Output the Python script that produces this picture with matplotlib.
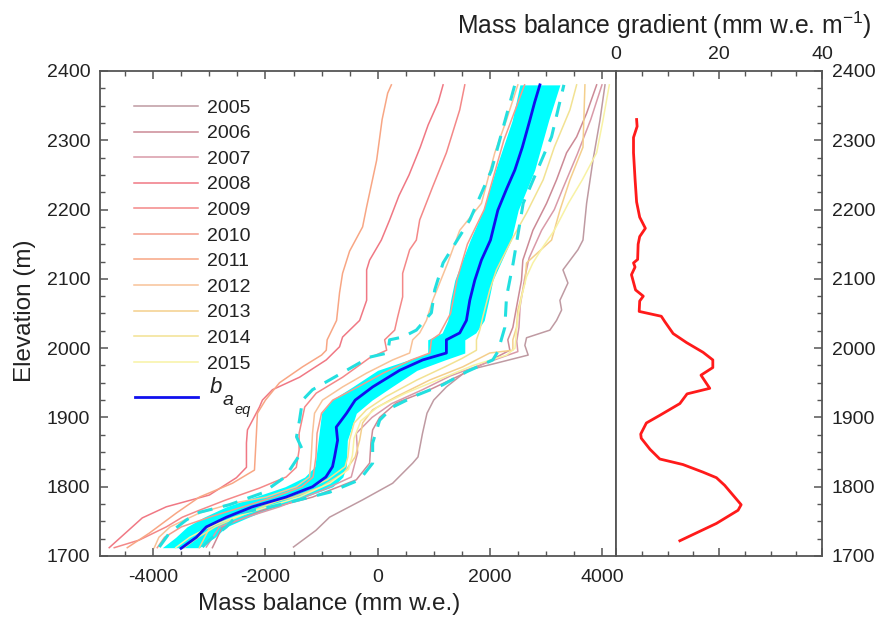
import matplotlib
matplotlib.use("Agg")
import matplotlib.pyplot as plt
from matplotlib.lines import Line2D
from matplotlib.ticker import MultipleLocator

plt.rcParams['font.family'] = ['Liberation Sans', 'DejaVu Sans']
plt.rcParams['mathtext.fontset'] = 'custom'
plt.rcParams['mathtext.it'] = 'Liberation Sans:italic'
plt.rcParams['mathtext.rm'] = 'Liberation Sans'
plt.rcParams['axes.unicode_minus'] = False

# ---------------- data ----------------
years = ['2005', '2006', '2007', '2008', '2009', '2010', '2011', '2012', '2013', '2014', '2015']
year_colors = ['#bf9aa2', '#cc8a96', '#d99aa8', '#f07884', '#f48888', '#f49c8c',
               '#f8a684', '#f8c298', '#f4cf8c', '#f2e292', '#f8f2a4']

e_2005 = [1713, 1737, 1756, 1781, 1805, 1834, 1843, 1877, 1906, 1925, 1944, 1968, 1978, 1990, 2004, 2015, 2026, 2040, 2055, 2069, 2094, 2113, 2142, 2156, 2209, 2271, 2329, 2380]
mb_2005 = [-1500, -1100, -857, -268, 268, 625, 720, 800, 880, 1000, 1226, 1600, 2100, 2684, 2625, 2655, 3071, 3190, 3280, 3250, 3393, 3304, 3571, 3661, 3726, 3839, 3964, 4054]

e_2006 = [1712, 1742, 1766, 1785, 1810, 1834, 1863, 1882, 1900, 1921, 1940, 1960, 1982, 1997, 2012, 2030, 2059, 2098, 2127, 2170, 2209, 2243, 2282, 2305, 2339, 2380]
mb_2006 = [-2946, -2768, -2054, -1161, -380, -143, -120, -89, 36, 333, 929, 1450, 2000, 2357, 2321, 2411, 2476, 2565, 2589, 2768, 3012, 3190, 3369, 3548, 3726, 3905]

e_2007 = [1713, 1742, 1756, 1771, 1795, 1814, 1849, 1877, 1900, 1920, 1940, 1960, 1985, 1995, 2010, 2030, 2060, 2100, 2130, 2170, 2200, 2230, 2280, 2330, 2380]
mb_2007 = [-3054, -2821, -2339, -1750, -982, -470, -357, -380, -100, 250, 800, 1300, 2150, 2500, 2480, 2520, 2540, 2620, 2700, 2923, 3150, 3300, 3560, 3800, 4000]

e_2008 = [1712, 1755, 1771, 1788, 1813, 1828, 1863, 1882, 1915, 1925, 1940, 1958, 1983, 2002, 2016, 2040, 2069, 2113, 2127, 2156, 2185, 2220, 2250, 2290, 2322, 2355, 2380]
mb_2008 = [-4786, -4196, -3768, -3000, -2518, -2339, -2339, -2321, -2107, -2054, -1875, -1393, -916, -679, -625, -321, -196, -196, -143, 66, 214, 380, 560, 760, 900, 1080, 1167]

e_2009 = [1712, 1723, 1742, 1756, 1766, 1781, 1798, 1814, 1828, 1853, 1877, 1915, 1935, 1958, 1986, 1997, 2012, 2026, 2045, 2074, 2108, 2142, 2156, 2185, 2233, 2282, 2344, 2380]
mb_2009 = [-4696, -4250, -3768, -3482, -3179, -2702, -2107, -1631, -1450, -1400, -1400, -1300, -1095, -625, -143, 161, 125, 304, 357, 446, 446, 571, 690, 750, 982, 1226, 1464, 1554]

e_2010 = [1712, 1727, 1742, 1756, 1771, 1785, 1800, 1814, 1843, 1877, 1906, 1925, 1944, 1964, 1983, 1993, 2012, 2020, 2050, 2100, 2150, 2200, 2300, 2380]
mb_2010 = [-3929, -3800, -3500, -3000, -2400, -1850, -1350, -1150, -1100, -1080, -1000, -800, -350, 100, 600, 930, 960, 1100, 1300, 1420, 1600, 1900, 2250, 2620]

e_2011 = [1712, 1733, 1762, 1785, 1805, 1824, 1877, 1906, 1925, 1950, 1973, 1990, 1997, 2012, 2040, 2080, 2108, 2140, 2175, 2204, 2271, 2330, 2368, 2380]
mb_2011 = [-4464, -4071, -3589, -3179, -2589, -2196, -2161, -2143, -2000, -1750, -1339, -1000, -916, -900, -732, -679, -625, -500, -268, -196, -18, 80, 179, 245]

e_2012 = [1712, 1727, 1742, 1762, 1776, 1785, 1800, 1814, 1843, 1877, 1906, 1925, 1944, 1964, 1983, 1993, 2012, 2022, 2040, 2069, 2123, 2170, 2209, 2282, 2330, 2380]
mb_2012 = [-3982, -3900, -3700, -3179, -2589, -1988, -1452, -1214, -1184, -1161, -1125, -982, -625, -196, 268, 571, 625, 750, 870, 982, 1250, 1464, 1851, 2089, 2300, 2500]

e_2013 = [1712, 1740, 1756, 1771, 1785, 1800, 1820, 1843, 1867, 1892, 1911, 1930, 1954, 1973, 1993, 1997, 2012, 2030, 2055, 2094, 2123, 2156, 2199, 2243, 2290, 2380]
mb_2013 = [-3179, -3000, -2700, -2200, -1500, -1000, -600, -400, -321, -268, -89, 333, 929, 1518, 2000, 2411, 2411, 2476, 2500, 2625, 2655, 3101, 3250, 3429, 3661, 3696]

e_2014 = [1712, 1727, 1742, 1756, 1771, 1790, 1810, 1829, 1843, 1867, 1892, 1911, 1930, 1954, 1973, 1985, 1997, 2012, 2026, 2045, 2084, 2113, 2156, 2195, 2243, 2290, 2344, 2380]
mb_2014 = [-3450, -3200, -2900, -2500, -2050, -1450, -900, -580, -530, -500, -420, -200, 150, 700, 1200, 1500, 1762, 1762, 1821, 1875, 2000, 2119, 2387, 2655, 2952, 3150, 3429, 3548]

e_2015 = [1712, 1727, 1742, 1756, 1770, 1785, 1805, 1825, 1845, 1870, 1895, 1915, 1935, 1955, 1975, 1990, 2000, 2026, 2045, 2074, 2103, 2123, 2146, 2170, 2209, 2243, 2282, 2329, 2380]
mb_2015 = [-3600, -3350, -3000, -2550, -2000, -1400, -850, -520, -450, -420, -300, 0, 500, 1100, 1700, 2300, 2450, 2476, 2500, 2565, 2655, 2768, 2946, 3150, 3400, 3650, 3905, 4018, 4131]

year_elev = [e_2005, e_2006, e_2007, e_2008, e_2009, e_2010, e_2011, e_2012, e_2013, e_2014, e_2015]
year_mb = [mb_2005, mb_2006, mb_2007, mb_2008, mb_2009, mb_2010, mb_2011, mb_2012, mb_2013, mb_2014, mb_2015]

# equilibrium-climate balance profile b_aeq
baeq_elev = [1711, 1727, 1742, 1756, 1771, 1785, 1800, 1814, 1829, 1843, 1867, 1886, 1906, 1925, 1944, 1968, 1983, 1993, 2012, 2022, 2040, 2069, 2098, 2127, 2156, 2199, 2230, 2257, 2290, 2329, 2355, 2380]
baeq_mb = [-3505, -3232, -3054, -2696, -2232, -1636, -1161, -923, -804, -768, -714, -738, -554, -400, -89, 393, 804, 1226, 1226, 1464, 1583, 1643, 1732, 1850, 2012, 2143, 2300, 2446, 2580, 2714, 2800, 2893]

# shaded band around b_aeq
band_elev = [1712, 1727, 1742, 1756, 1771, 1785, 1800, 1814, 1829, 1867, 1906, 1925, 1944, 1968, 1983, 1993, 2012, 2022, 2040, 2069, 2098, 2156, 2199, 2257, 2329, 2380]
band_lo = [-3839, -3600, -3400, -3100, -2700, -2200, -1650, -1300, -1120, -1060, -1000, -820, -450, 0, 550, 893, 893, 1150, 1250, 1300, 1375, 1650, 1881, 2100, 2400, 2536]
band_hi = [-3179, -2900, -2700, -2300, -1850, -1300, -800, -620, -560, -540, -380, -100, 250, 700, 1200, 1554, 1554, 1750, 1900, 1980, 2054, 2380, 2506, 2800, 3050, 3250]

# dashed envelopes
dl_elev = [1713, 1733, 1752, 1763, 1774, 1791, 1814, 1839, 1853, 1872, 1896, 1925, 1940, 1968, 1987, 1993, 2012, 2016, 2026, 2051, 2084, 2123, 2185, 2257, 2380]
dl_mb = [-3893, -3714, -3411, -3179, -2643, -2054, -1650, -1446, -1339, -1446, -1393, -1339, -1161, -554, -143, 179, 214, 446, 690, 958, 1018, 1167, 1643, 2030, 2446]
dr_elev = [1713, 1723, 1742, 1762, 1771, 1780, 1792, 1810, 1834, 1863, 1896, 1915, 1932, 1947, 1966, 1983, 1995, 2030, 2074, 2123, 2209, 2305, 2380]
dr_mb = [-3125, -3000, -2696, -2464, -1900, -1450, -857, -321, -89, -89, 36, 268, 696, 1161, 1589, 2054, 2143, 2268, 2298, 2417, 2595, 3101, 3321]

# mass balance gradient profile
grad_elev = [1722, 1747, 1766, 1774, 1788, 1802, 1813, 1821, 1832, 1840, 1854, 1870, 1876, 1892, 1903, 1920, 1934, 1942, 1961, 1972, 1983, 1994, 2008, 2021, 2038, 2046, 2053, 2068, 2075, 2084, 2095, 2106, 2117, 2123, 2128, 2150, 2161, 2173, 2189, 2211, 2244, 2282, 2304, 2320, 2330]
grad_val = [12.4, 19.5, 23.7, 24.3, 22.7, 21.1, 19.5, 16.9, 13.0, 8.5, 6.6, 4.9, 4.8, 5.9, 8.5, 12.4, 13.8, 18.2, 16.5, 18.8, 18.8, 16.9, 13.7, 11.1, 9.5, 8.8, 4.5, 4.6, 5.3, 3.8, 3.4, 3.0, 3.7, 3.4, 4.2, 4.3, 4.6, 5.7, 4.6, 4.0, 3.7, 3.4, 3.4, 4.1, 4.0]

# ---------------- figure ----------------
W, H = 880, 622
fig = plt.figure(figsize=(W / 100, H / 100), dpi=100)

axL = fig.add_axes([100 / W, 1 - 556 / H, (616 - 100) / W, (556 - 71) / H])
axR = fig.add_axes([616 / W, 1 - 556 / H, (822 - 616) / W, (556 - 71) / H])

spine_col = '#555555'
txt_col = '#222222'
blue_col = '#1010ee'
for ax in (axL, axR):
    for s in ax.spines.values():
        s.set_color(spine_col)
        s.set_linewidth(1.3)

# band, lines
axL.fill_betweenx(band_elev, band_lo, band_hi, color='#00ffff', lw=0, zorder=1)
for yr, col, ee, mm in zip(years, year_colors, year_elev, year_mb):
    axL.plot(mm, ee, color=col, lw=1.1, label=yr, zorder=2)
axL.plot(dl_mb, dl_elev, color='#22e0e0', lw=2.2, dashes=(5, 3.5), zorder=3)
axL.plot(dr_mb, dr_elev, color='#22e0e0', lw=2.2, dashes=(5, 3.5), zorder=3)
axL.plot(baeq_mb, baeq_elev, color=blue_col, lw=2, zorder=4)

axL.set_xlim(-4950, 4250)
axL.set_ylim(1700, 2400)
axL.xaxis.set_major_locator(MultipleLocator(2000))
axL.xaxis.set_minor_locator(MultipleLocator(500))
axL.yaxis.set_major_locator(MultipleLocator(100))
axL.yaxis.set_minor_locator(MultipleLocator(25))
axL.tick_params(which='both', direction='in', top=True, bottom=True, left=True, right=False,
                labelsize=14, labelcolor=txt_col, color=spine_col)
axL.tick_params(which='major', length=6, width=1.1)
axL.tick_params(which='minor', length=3.5, width=1.0)
axL.tick_params(axis='x', which='major', pad=9)
axL.tick_params(axis='y', which='major', pad=7)

fig.text(329 / W, 1 - 604 / H, 'Mass balance (mm w.e.)', ha='center', va='center',
         fontsize=17.5, color=txt_col)
fig.text(25 / W, 1 - 311 / H, 'Elevation (m)', ha='center', va='center', rotation=90,
         fontsize=17.5, color=txt_col)

leg = axL.legend(loc='upper left', bbox_to_anchor=(0.065, 0.942), frameon=False,
                 fontsize=14, handlelength=3.3, handletextpad=0.5, labelspacing=0.41,
                 borderaxespad=0, borderpad=0)
for t in leg.get_texts():
    t.set_color(txt_col)

# b_aeq legend entry (taller, with nested subscripts)
fig.add_artist(Line2D([135 / W, 198 / W], [1 - 397 / H, 1 - 397 / H], color=blue_col, lw=2))
fig.text(210 / W, 1 - 393 / H, 'b', fontsize=16, style='italic', color=txt_col, ha='left', va='baseline')
fig.text(223 / W, 1 - 405 / H, 'a', fontsize=14, style='italic', color=txt_col, ha='left', va='baseline')
fig.text(234 / W, 1 - 414 / H, 'eq', fontsize=10.5, style='italic', color=txt_col, ha='left', va='baseline')

# gradient panel
axR.plot(grad_val, grad_elev, color='#ff1a1a', lw=2)
axR.set_xlim(0, 40)
axR.set_ylim(1700, 2400)
axR.xaxis.set_major_locator(MultipleLocator(20))
axR.xaxis.set_minor_locator(MultipleLocator(5))
axR.yaxis.set_major_locator(MultipleLocator(100))
axR.yaxis.set_minor_locator(MultipleLocator(25))
axR.tick_params(which='both', direction='in', top=True, bottom=True, left=False, right=True,
                labeltop=True, labelbottom=False, labelleft=False, labelright=True,
                labelsize=14, labelcolor=txt_col, color=spine_col)
axR.tick_params(which='major', length=6, width=1.1)
axR.tick_params(which='minor', length=3.5, width=1.0)
axR.tick_params(axis='x', which='major', pad=6)
axR.tick_params(axis='y', which='major', pad=7)

fig.text(664 / W, 1 - 25 / H, 'Mass balance gradient (mm w.e. m$^{-1}$)', ha='center', va='center',
         fontsize=17.8, color=txt_col)

fig.savefig('out.png', dpi=100)
